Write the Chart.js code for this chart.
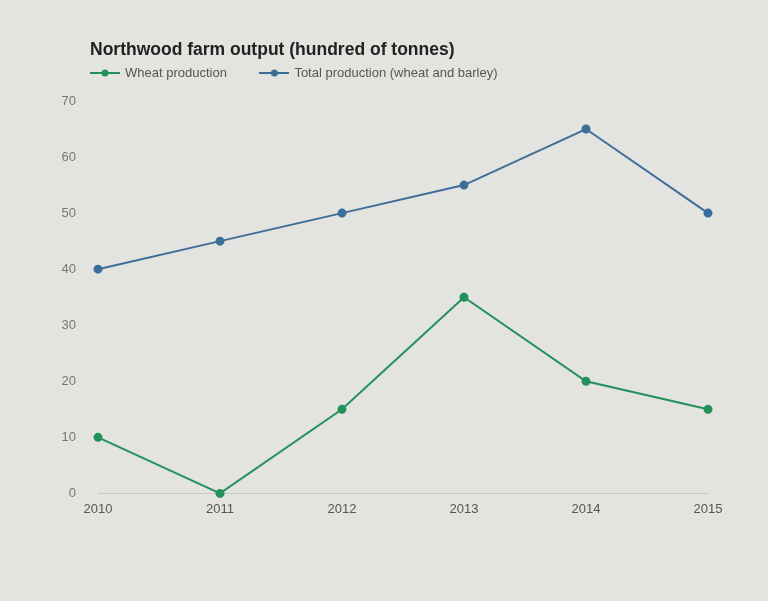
<!DOCTYPE html>
<html>
<head>
<meta charset="utf-8">
<script src="https://cdn.jsdelivr.net/npm/chart.js@4.4.0/dist/chart.umd.min.js"></script>
<style>
    html, body { margin: 0; padding: 0; background: #e3e3e0; }
    #wrap { width: 768px; height: 601px; }
</style>
</head>
<body>
<div id="wrap"><canvas id="line-chart"></canvas></div>
<script>
var years = ["2010", "2011", "2012", "2013", "2014", "2015"];
var wheatValues = [10, 0, 15, 35, 20, 15];
var totalValues = [40, 45, 50, 55, 65, 50];
var yTicks = [0, 10, 20, 30, 40, 50, 60, 70];

var wheatColor = "#22915a";
var totalColor = "#3d6e9a";

// small line + dot marker for the legend
var legendMarker = function (color) {
    var c = document.createElement("canvas");
    c.width = 30;
    c.height = 10;
    var ctx = c.getContext("2d");
    ctx.strokeStyle = color;
    ctx.lineWidth = 2;
    ctx.beginPath();
    ctx.moveTo(0, 5);
    ctx.lineTo(30, 5);
    ctx.stroke();
    ctx.fillStyle = color;
    ctx.beginPath();
    ctx.arc(15, 5, 3.5, 0, Math.PI * 2);
    ctx.fill();
    return c;
};

// fixed legend height, then title + legend moved over the plot instead of the y labels
var headerLayout = {
    id: 'headerLayout',
    beforeInit: function (chart) {
        var fit = chart.legend.fit;
        chart.legend.fit = function () {
            fit.bind(chart.legend)();
            this.height = 60;
        };
    },
    afterLayout: function (chart) {
        chart.titleBlock.left = 90;
        chart.titleBlock.top = 40;
        chart.legend.left = 57.5;
        chart.legend.top = 32.5;
    }
};

Chart.defaults.font.family = "'Liberation Sans', Arial, sans-serif";

new Chart("line-chart", {
    type: 'line',
    data: {
        labels: years,
        datasets: [{
                label: "Wheat production",
                data: wheatValues,
                borderColor: wheatColor,
                backgroundColor: wheatColor,
                borderWidth: 2,
                pointRadius: 3.5,
                tension: 0,
                clip: false
            },
            {
                label: "Total production (wheat and barley)",
                data: totalValues,
                borderColor: totalColor,
                backgroundColor: totalColor,
                borderWidth: 2,
                pointRadius: 3.5,
                tension: 0,
                clip: false
            }
        ]
    },
    plugins: [headerLayout],
    options: {
        responsive: true,
        maintainAspectRatio: false,
        animation: false,
        layout: {
            padding: { left: 46, right: 60, top: 20, bottom: 76 }
        },
        plugins: {
            title: {
                display: true,
                text: "Northwood farm output (hundred of tonnes)",
                align: 'start',
                color: "#222",
                font: { size: 17.5, weight: 'bold' },
                padding: { top: 0, bottom: 0 }
            },
            legend: {
                align: 'start',
                labels: {
                    usePointStyle: true,
                    pointStyleWidth: 27,
                    color: "#555",
                    font: { size: 13 },
                    padding: 34,
                    generateLabels: function (chart) {
                        return chart.data.datasets.map(function (ds, i) {
                            return {
                                text: ds.label,
                                pointStyle: legendMarker(ds.borderColor),
                                fontColor: "#555",
                                datasetIndex: i,
                                hidden: !chart.isDatasetVisible(i)
                            };
                        });
                    }
                }
            }
        },
        scales: {
            x: {
                offset: false,
                grid: { display: false, drawTicks: false },
                border: { display: true, color: "#c8c8c4" },
                ticks: { color: "#555", font: { size: 13 }, padding: 8 }
            },
            y: {
                min: 0,
                max: 70,
                afterBuildTicks: function (axis) {
                    axis.ticks = yTicks.map(function (v) { return { value: v }; });
                },
                afterFit: function (axis) {
                    axis.width = 52;
                },
                grid: { display: false, drawTicks: false },
                border: { display: false },
                ticks: { color: "#777", font: { size: 13 }, padding: 22 }
            }
        }
    }
});
</script>
</body>
</html>
